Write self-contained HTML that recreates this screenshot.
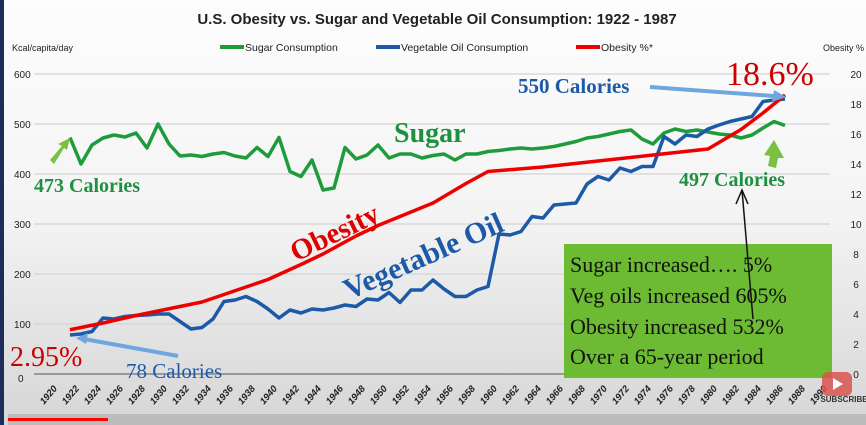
<!DOCTYPE html>
<html><head><meta charset="utf-8"><style>
body{margin:0;width:866px;height:425px;overflow:hidden;font-family:"Liberation Sans",sans-serif}
#wrap{position:relative;width:866px;height:425px;background:linear-gradient(#fdfdfd 0%,#f4f4f4 50%,#d6d6d6 100%);border-left:4px solid #1c2d5a;box-sizing:border-box}
svg{position:absolute;left:0;top:0}
</style></head><body>
<div id="wrap">
<svg id="chart" width="866" height="425">
<text x="433" y="24" text-anchor="middle" font-size="15" font-weight="bold" fill="#222">U.S. Obesity vs. Sugar and Vegetable Oil Consumption: 1922 - 1987</text>
<text x="8" y="51" font-size="9" fill="#222">Kcal/capita/day</text>
<text x="860" y="51" text-anchor="end" font-size="9" fill="#222">Obesity %</text>
<g>
<line x1="216" y1="47" x2="240" y2="47" stroke="#1e9c3c" stroke-width="4"/><text x="241" y="51" font-size="10.5" fill="#222">Sugar Consumption</text>
<line x1="372" y1="47" x2="396" y2="47" stroke="#1c5aa8" stroke-width="4"/><text x="397" y="51" font-size="10.5" fill="#222">Vegetable Oil Consumption</text>
<line x1="572" y1="47" x2="596" y2="47" stroke="#e00" stroke-width="4"/><text x="597" y="51" font-size="10.5" fill="#222">Obesity %*</text>
</g>
<g id="grid"></g><g id="axes"></g><g id="series"></g>
<g>
<text x="30" y="192" font-family="Liberation Serif" font-size="20" font-weight="bold" fill="#1e9040">473 Calories</text>
<polygon points="46,160 58,146 54,144 66,138 63,150 60,148 50,164" fill="#7ac143"/>
<text x="390" y="142" font-family="Liberation Serif" font-size="28" font-weight="bold" fill="#1e9040">Sugar</text>
<text x="292" y="262" font-family="Liberation Serif" font-size="29" font-weight="bold" fill="#d00" transform="rotate(-26 292 262)">Obesity</text>
<text x="345" y="300" font-family="Liberation Serif" font-size="30" font-weight="bold" fill="#1c5aa8" transform="rotate(-24 345 300)">Vegetable Oil</text>
<text x="514" y="93" font-family="Liberation Serif" font-size="21" font-weight="bold" fill="#1c5aa8">550 Calories</text>
<line x1="646" y1="87" x2="770" y2="96" stroke="#6ea6e0" stroke-width="4"/>
<polygon points="770,90 782,97 768,102" fill="#6ea6e0"/>
<text x="722" y="85" font-family="Liberation Serif" font-size="34" fill="#c00">18.6%</text>
<text x="675" y="186" font-family="Liberation Serif" font-size="20" font-weight="bold" fill="#1e9040">497 Calories</text>
<polygon points="770,140 780,158 774,158 772,168 764,166 766,156 760,155" fill="#7ac143"/>
<rect x="560" y="244" width="268" height="134" fill="#6cbb32"/>
<g font-family="Liberation Serif" font-size="22" fill="#111">
<text x="566" y="272">Sugar increased….  5%</text>
<text x="566" y="303">Veg oils increased 605%</text>
<text x="566" y="334">Obesity increased 532%</text>
<text x="566" y="364">Over a 65-year period</text>
</g>
<line x1="749" y1="319" x2="738" y2="190" stroke="#111" stroke-width="1.5"/>
<polyline points="732,204 738,190 744,204" fill="none" stroke="#111" stroke-width="1.5"/>
<text x="6" y="366" font-family="Liberation Serif" font-size="28" fill="#c00">2.95%</text>
<text x="122" y="378" font-family="Liberation Serif" font-size="21" fill="#1c5aa8">78 Calories</text>
<line x1="174" y1="356" x2="80" y2="339" stroke="#6ea6e0" stroke-width="4"/>
<polygon points="72,338 84,333 82,344" fill="#6ea6e0"/>
</g>
<g>
<rect x="818" y="372" width="30" height="24" rx="6" fill="#d9534f" opacity="0.85"/>
<polygon points="829,378 829,390 839,384" fill="#fff"/>
<text x="840" y="402" text-anchor="middle" font-size="8" font-weight="bold" fill="#333">SUBSCRIBE</text>
</g>
<rect x="4" y="414" width="862" height="11" fill="#bbb"/>
<rect x="4" y="418" width="100" height="3" fill="#f00"/>
</svg>
</div>
<script>
const years=[1922,1923,1924,1925,1926,1927,1928,1929,1930,1931,1932,1933,1934,1935,1936,1937,1938,1939,1940,1941,1942,1943,1944,1945,1946,1947,1948,1949,1950,1951,1952,1953,1954,1955,1956,1957,1958,1959,1960,1961,1962,1963,1964,1965,1966,1967,1968,1969,1970,1971,1972,1973,1974,1975,1976,1977,1978,1979,1980,1981,1982,1983,1984,1985,1986,1987];
const sugar=[473,420,458,472,478,474,482,452,500,460,436,438,435,440,443,436,432,453,435,473,405,395,428,368,372,453,430,438,458,432,440,440,432,437,440,428,440,440,445,447,450,452,450,452,455,460,465,472,475,480,485,488,470,460,482,490,485,488,484,480,478,472,478,492,505,497];
const vegOil=[78,80,85,112,110,115,117,118,120,120,105,90,93,110,145,148,155,145,130,112,128,122,130,128,132,138,135,150,148,163,143,168,168,188,170,155,155,168,175,280,278,285,315,312,338,340,342,380,395,388,412,405,415,415,475,460,478,475,490,498,505,510,515,545,548,550];
const obYears=[1922,1925,1928,1930,1932,1934,1936,1938,1940,1943,1945,1948,1950,1952,1955,1958,1960,1965,1970,1975,1980,1983,1985,1987];
const obesity=[2.95,3.4,3.9,4.2,4.5,4.8,5.3,5.8,6.3,7.3,8.0,9.2,9.9,10.5,11.4,12.7,13.5,13.8,14.2,14.6,15.0,16.3,17.4,18.6];
const leftTicks=[0,100,200,300,400,500,600];
const rightTicks=[0,2,4,6,8,10,12,14,16,18,20];
const xTicks=[1920,1922,1924,1926,1928,1930,1932,1934,1936,1938,1940,1942,1944,1946,1948,1950,1952,1954,1956,1958,1960,1962,1964,1966,1968,1970,1972,1974,1976,1978,1980,1982,1984,1986,1988,1990];
const NS='http://www.w3.org/2000/svg';
const X=y=>44+(y-1920)*11.0, YL=v=>374-v*0.5, YR=v=>374-v*15;
function mk(t,a,p){const e=document.createElementNS(NS,t);for(const k in a)e.setAttribute(k,a[k]);p.appendChild(e);return e;}
const grid=document.getElementById('grid'),axes=document.getElementById('axes'),ser=document.getElementById('series');
leftTicks.forEach(v=>{
 const l=mk('line',{x1:30,x2:826,y1:YL(v),y2:YL(v),stroke:v?'#d4d4d4':'#999','stroke-width':v?1.2:2},grid);
 
 
 const t=mk('text',{x:v?10:14,y:YL(v)+(v?4:8),'font-size':10,fill:'#222'},axes);t.textContent=v;
 
 
});
rightTicks.forEach(v=>{
 const t=mk('text',{x:852,y:YR(v)+4,'font-size':10,'text-anchor':'middle',fill:'#222'},axes);t.textContent=v;
 
 
});
xTicks.forEach(y=>{
 const x=X(y)-4,yy=405;
 const t=mk('text',{x:x,y:yy,'font-size':9.5,'font-weight':'bold','font-style':'italic',fill:'#222',transform:`rotate(-50 ${x} ${yy})`},axes);t.textContent=y;
 
 
});
function line(xs,vs,fy,col,name){
 const p=mk('polyline',{points:xs.map((y,i)=>X(y)+','+fy(vs[i])).join(' '),fill:'none',stroke:col,'stroke-width':3.5,'stroke-linejoin':'round'},ser);
 
 
}
line(years,sugar,YL,'#1e9c3c','sugar-line');
line(years,vegOil,YL,'#1c5aa8','veg-oil-line');
line(obYears,obesity,YR,'#e00','obesity-line');
</script>
</body></html>
